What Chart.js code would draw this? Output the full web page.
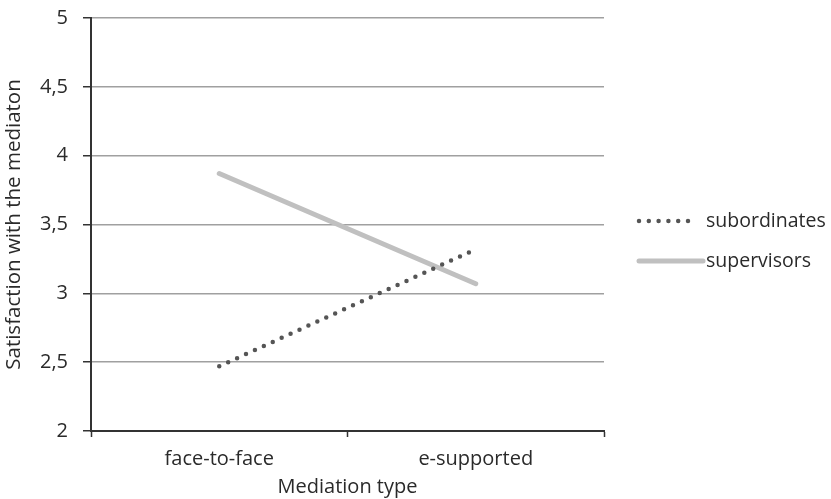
<!DOCTYPE html>
<html>
<head>
<meta charset="utf-8">
<script src="https://cdn.jsdelivr.net/npm/chart.js@4"></script>
<style>
  html, body { margin: 0; padding: 0; background: #fff; }
  #wrap { width: 831px; height: 499px; }
</style>
</head>
<body>
<div id="wrap"><canvas id="chart" width="831" height="499"></canvas></div>
<script>
// données
const categories = ['face-to-face', 'e-supported'];
const subordinates = [2.47, 3.32];
const supervisors = [3.87, 3.07];
const yTicks = [2, 2.5, 3, 3.5, 4, 4.5, 5];

const FONT = '"Open Sans", sans-serif';
const TEXT = '#2a2a2a';

// légende dessinée à la main, à droite de la zone du graphique
const sideLegend = {
  id: 'sideLegend',
  afterDraw(chart) {
    const ctx = chart.ctx;
    const right = chart.chartArea.right;
    const rows = [
      { ds: chart.data.datasets[0], y: 221, x1: right + 35, x2: right + 93 },
      { ds: chart.data.datasets[1], y: 261, x1: right + 35, x2: right + 99 }
    ];
    ctx.save();
    rows.forEach(r => {
      ctx.beginPath();
      ctx.strokeStyle = r.ds.borderColor;
      ctx.lineWidth = r.ds.borderWidth;
      ctx.lineCap = r.ds.borderCapStyle || 'butt';
      ctx.setLineDash(r.ds.borderDash || []);
      ctx.moveTo(r.x1, r.y);
      ctx.lineTo(r.x2, r.y);
      ctx.stroke();
      ctx.setLineDash([]);
      ctx.fillStyle = TEXT;
      ctx.font = '19.5px ' + FONT;
      ctx.textBaseline = 'middle';
      ctx.textAlign = 'left';
      ctx.fillText(r.ds.label, right + 102, r.y);
    });
    ctx.restore();
  }
};

const ctx = document.getElementById('chart').getContext('2d');
new Chart(ctx, {
  type: 'line',
  data: {
    labels: categories,
    datasets: [
      {
        label: 'subordinates',
        data: subordinates,
        borderColor: '#555555',
        borderWidth: 4.5,
        borderDash: [0, 9.8],
        borderCapStyle: 'round',
        pointRadius: 0,
        fill: false
      },
      {
        label: 'supervisors',
        data: supervisors,
        borderColor: '#c0c0c0',
        borderWidth: 5,
        borderCapStyle: 'round',
        pointRadius: 0,
        fill: false
      }
    ]
  },
  options: {
    responsive: false,
    animation: false,
    layout: { padding: { top: 18, right: 227, left: 0, bottom: 0 } },
    plugins: {
      legend: { display: false },
      tooltip: { enabled: false }
    },
    scales: {
      x: {
        offset: true,
        grid: {
          offset: true,
          drawOnChartArea: false,
          tickLength: 6,
          tickColor: '#333333',
          tickWidth: 1.5
        },
        border: { color: '#333333', width: 2 },
        ticks: {
          color: TEXT,
          font: { family: FONT, size: 20 },
          padding: 10,
          maxRotation: 0
        },
        title: {
          display: true,
          text: 'Mediation type',
          color: TEXT,
          font: { family: FONT, size: 20 },
          padding: { top: 0, bottom: 0 }
        },
        afterFit: scale => { scale.height = 68; }
      },
      y: {
        min: 2,
        max: 5,
        afterBuildTicks: scale => { scale.ticks = yTicks.map(v => ({ value: v })); },
        grid: {
          color: '#a0a0a0',
          lineWidth: 1.5,
          tickLength: 8,
          tickColor: '#333333',
          tickWidth: 1.5
        },
        border: { color: '#333333', width: 2 },
        ticks: {
          color: TEXT,
          font: { family: FONT, size: 20 },
          padding: 15,
          callback: v => String(v).replace('.', ',')
        },
        title: {
          display: true,
          text: 'Satisfaction with the mediaton',
          color: TEXT,
          font: { family: FONT, size: 20.5 },
          padding: { top: 2, bottom: 0 }
        },
        afterFit: scale => {
          scale.width = 91;
          scale.paddingTop = 0;
          scale.paddingBottom = 0;
        }
      }
    }
  },
  plugins: [sideLegend]
});
</script>
</body>
</html>
